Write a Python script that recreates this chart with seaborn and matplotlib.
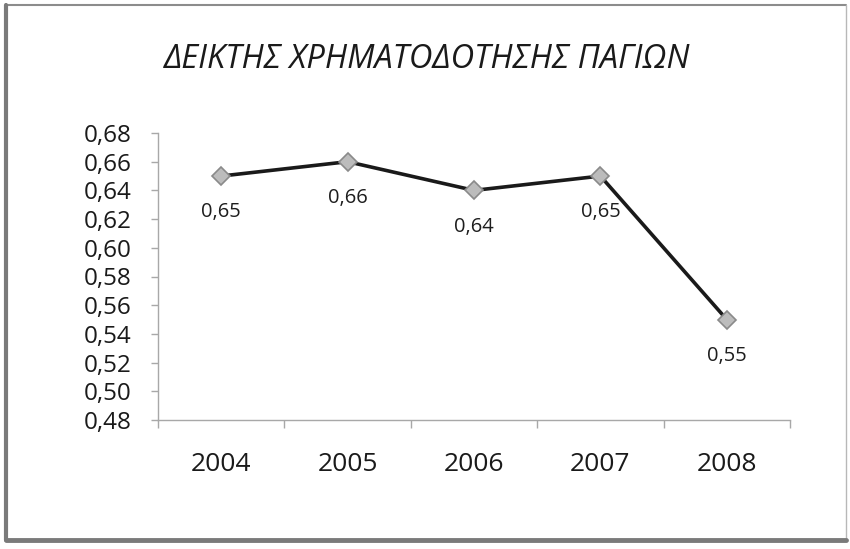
import matplotlib
matplotlib.use("Agg")
import matplotlib.pyplot as plt
from matplotlib.lines import Line2D
from matplotlib.ticker import FixedLocator, FuncFormatter
import seaborn as sns
import pandas as pd

# Chart data
years = ["2004", "2005", "2006", "2007", "2008"]
ratio = [0.65, 0.66, 0.64, 0.65, 0.55]
y_ticks = [0.48, 0.50, 0.52, 0.54, 0.56, 0.58, 0.60, 0.62, 0.64, 0.66, 0.68]
title = "ΔΕΙΚΤΗΣ ΧΡΗΜΑΤΟΔΟΤΗΣΗΣ ΠΑΓΙΩΝ"

sns.set_theme(style="white")
plt.rcParams["font.family"] = ["Open Sans", "DejaVu Sans"]

df = pd.DataFrame({"pos": range(len(years)), "year": years, "ratio": ratio})

fig = plt.figure(figsize=(8.5, 5.49), dpi=100)
fig.patch.set_facecolor("white")
ax = fig.add_axes([158 / 850, 1 - 420 / 549, (790 - 158) / 850, (420 - 133) / 549])
ax.set_facecolor("white")

sns.lineplot(data=df, x="pos", y="ratio", ax=ax, color="#1a1a1a", linewidth=2.6,
             marker="D", markersize=9.5, markerfacecolor="#bcbcbc",
             markeredgecolor="#8a8a8a", markeredgewidth=1.2, zorder=3)

# value labels below each point
for p, v in zip(df["pos"], df["ratio"]):
    ax.annotate(f"{v:.2f}".replace(".", ","), (p, v), xytext=(0, -26),
                textcoords="offset points", ha="center", va="center",
                fontsize=14.5, color="#1e1e1e")

ax.set_xlim(-0.5, len(years) - 0.5)
ax.set_ylim(y_ticks[0], y_ticks[-1])
ax.set_xticks(list(df["pos"]))
ax.set_xticklabels(years, fontsize=19, color="#1a1a1a")
ax.xaxis.set_minor_locator(FixedLocator([i - 0.5 for i in range(len(years) + 1)]))
ax.tick_params(axis="x", which="major", length=0, pad=23, bottom=False)
ax.tick_params(axis="x", which="minor", length=6, color="#a8a8a8", width=1,
               direction="out", bottom=True)
ax.set_yticks(y_ticks)
ax.yaxis.set_major_formatter(FuncFormatter(lambda v, _: f"{v:.2f}".replace(".", ",")))
ax.tick_params(axis="y", length=5, color="#a8a8a8", width=1, direction="out",
               labelsize=17.5, labelcolor="#1a1a1a", pad=14, left=True)
ax.set_xlabel("")
ax.set_ylabel("")

for side in ("top", "right"):
    ax.spines[side].set_visible(False)
for side in ("left", "bottom"):
    ax.spines[side].set_color("#a8a8a8")
    ax.spines[side].set_linewidth(1.0)

fig.text(427 / 850, 1 - 60 / 549, title, ha="center", va="center",
         fontsize=23.5, style="italic", color="#1a1a1a")

# outer chart frame with darker left/bottom edges
fx0, fx1 = 6 / 850, 846 / 850
fy0, fy1 = 1 - 540 / 549, 1 - 5 / 549
fig.add_artist(Line2D([fx0, fx1], [fy1, fy1], transform=fig.transFigure, color="#8c8c8c", lw=1.5))
fig.add_artist(Line2D([fx1, fx1], [fy0, fy1], transform=fig.transFigure, color="#b8b8b8", lw=1.0))
fig.add_artist(Line2D([fx0, fx0], [fy0, fy1], transform=fig.transFigure, color="#7a7a7a", lw=3.0))
fig.add_artist(Line2D([fx0, fx1], [fy0, fy0], transform=fig.transFigure, color="#7a7a7a", lw=3.5))

fig.savefig("out.png", dpi=100, facecolor="white")
